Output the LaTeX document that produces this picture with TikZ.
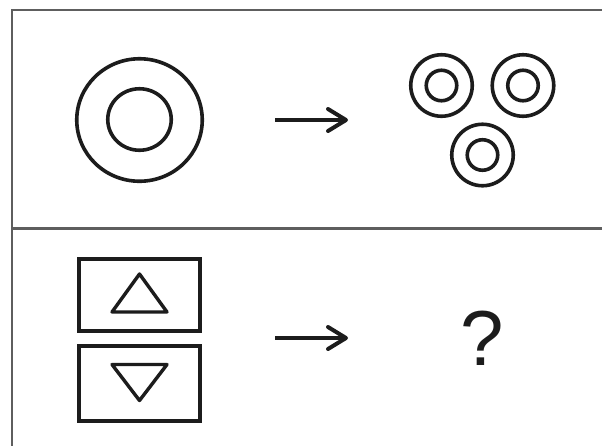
\documentclass[tikz,border=0pt]{standalone}
\usepackage{fontspec}
\setmainfont{Liberation Sans}
\usetikzlibrary{arrows.meta,shapes.geometric}
\definecolor{ink}{HTML}{1C1C1C}
\definecolor{rule}{HTML}{5E5E5E}

\begin{document}
\begin{tikzpicture}[x=1pt,y=-1pt,
frame/.style={draw=rule,line width=2.4pt},
ring/.style={draw=ink,ellipse,line width=3.6pt,inner sep=0pt},
tile/.style={draw=ink,line width=3.6pt,inner sep=0pt,minimum width=121.5pt},
tri/.style={draw=ink,line width=3.4pt,line join=round},
f/.style={-{Straight Barb[length=18pt,width=22pt,round]},draw=ink,line width=4pt}]
\useasboundingbox[fill=white] (0,0) rectangle (602,445);
\clip (0,0) rectangle (602,445);
% panels
\draw[frame] (12,460) -- (12,10) -- (620,10);
\draw[frame] (12,228.5) -- (620,228.5);
% top row
\node[ring,minimum width=125.5pt,minimum height=122.5pt] (big) at (139.5,120) {};
\node[ring,minimum width=63.5pt,minimum height=61.5pt] (bigin) at (139.5,119.5) {};
\foreach \n/\x/\y in {r1/441.5/85.5,r2/523/85.5,r3/482.5/155}{
  \node[ring,minimum width=61.5pt,minimum height=61.5pt] (\n) at (\x,\y) {};
  \node[ring,minimum width=30.5pt,minimum height=30.5pt] (\n in) at (\x,\y) {};
}
\coordinate (a1) at (275,120); \coordinate (b1) at (348,120);
\draw[f] (a1)--(b1);
% bottom row
\node[tile,minimum height=72.5pt] (up) at (139.5,295) {};
\node[tile,minimum height=74.5pt] (down) at (139.5,383.5) {};
\draw[tri] ([shift={(0,-21)}]up.center) -- ([shift={(27.5,17)}]up.center) -- ([shift={(-27.5,17)}]up.center) -- cycle;
\draw[tri] ([shift={(0,17)}]down.center) -- ([shift={(27.5,-19)}]down.center) -- ([shift={(-27.5,-19)}]down.center) -- cycle;
\coordinate (a2) at (275,338); \coordinate (b2) at (348,338);
\draw[f] (a2)--(b2);
\node[text=ink,font=\fontsize{78}{78}\selectfont,inner sep=0pt] (q) at (482,338.5) {?};
\end{tikzpicture}
\end{document}
